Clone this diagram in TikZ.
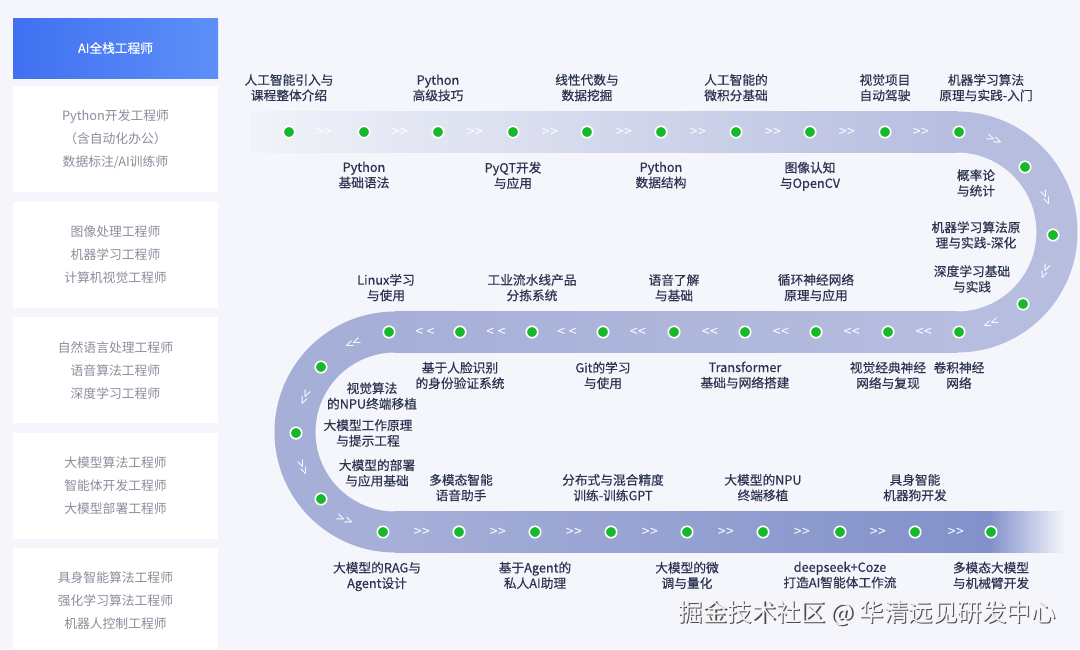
\documentclass[tikz,border=0pt]{standalone}
\usepackage{fontspec}
\setmainfont{Noto Sans CJK SC}
\newfontfamily\topicfont[FakeBold=0.45]{Noto Sans CJK SC}
\usepackage{tikz}
\usetikzlibrary{positioning}
\usepackage{xcolor}

\definecolor{pagebg}{HTML}{F5F6FB}
\definecolor{headblue}{HTML}{3F71F1}
\definecolor{headblueL}{HTML}{5E8FF8}
\definecolor{roletext}{HTML}{8A8E9B}
\definecolor{topictext}{HTML}{2C3450}
\definecolor{stopgreen}{HTML}{17B82A}
\definecolor{roadA}{HTML}{F1F3F9}
\definecolor{roadC}{HTML}{B6BDDF}
\definecolor{roadD}{HTML}{A6AFD8}
\definecolor{roadF}{HTML}{8291CA}
\definecolor{wmback}{HTML}{4A4A4A}
\definecolor{wmfront}{HTML}{F4F4F4}

\newcommand{\fwd}{>\kern0.5pt>}
\newcommand{\bwd}{<\kern0.5pt<}
\newcommand{\bwdwide}{<\kern3.5pt<}

\begin{document}
\begin{tikzpicture}[
  x=1pt, y=-1pt,
  node distance=9pt,
  headbox/.style={
    minimum width=205pt,
    minimum height=60pt,
    left color=headblue,
    right color=headblueL,
    text=white,
    font=\topicfont\fontsize{12.7}{15}\selectfont
  },
  rolebox/.style={
    fill=white,
    minimum width=205pt,
    minimum height=106pt,
    align=center,
    text=roletext,
    font=\fontsize{12.8}{23}\selectfont
  },
  stopdot/.style={
    circle,
    fill=stopgreen,
    draw=white,
    line width=1.6pt,
    inner sep=0pt,
    minimum size=11.5pt
  },
  chev/.style={
    text=white,
    inner sep=0pt,
    font=\fontsize{14}{14}\selectfont
  },
  topic/.style={
    align=center,
    text=topictext,
    inner sep=0pt,
    font=\topicfont\fontsize{12.7}{15.5}\selectfont
  },
  watermark/.style={
    font=\fontsize{24.5}{25}\selectfont
  }
]

\useasboundingbox (0,0) rectangle (1080,649);
\fill[pagebg] (0,0) rectangle (1080,649);

% Career column
\node[headbox] (head) at (115.5,48) {AI全栈工程师};
\node[rolebox, below=8pt of head] (role1)
  {Python开发工程师\\（含自动化办公）\\数据标注/AI训练师};
\node[rolebox, below=of role1] (role2)
  {图像处理工程师\\机器学习工程师\\计算机视觉工程师};
\node[rolebox, below=of role2] (role3)
  {自然语言处理工程师\\语音算法工程师\\深度学习工程师};
\node[rolebox, below=of role3] (role4)
  {大模型算法工程师\\智能体开发工程师\\大模型部署工程师};
\node[rolebox, below=of role4] (role5)
  {具身智能算法工程师\\强化学习算法工程师\\机器人控制工程师};

% Road
\shade[left color=roadA, right color=roadC] (250,111.5) rectangle (957.5,152.5);
\draw[roadC, line width=41pt] (957,132) arc[start angle=-90, end angle=90, radius=100];
\shade[left color=roadD, right color=roadC] (394.5,311.5) rectangle (957.5,352.5);
\draw[roadD, line width=41pt] (395,332) arc[start angle=-90, end angle=-270, radius=100];
\shade[left color=roadD, right color=roadF] (394.5,511.5) rectangle (990,552.5);
\shade[left color=roadF, right color=pagebg] (989.5,511.5) rectangle (1065,552.5);

% Top row stops
\node[stopdot] (t1) at (289,132) {};
\node[stopdot] (t2) at (364,132) {};
\node[stopdot] (t3) at (438,132) {};
\node[stopdot] (t4) at (513,132) {};
\node[stopdot] (t5) at (587,132) {};
\node[stopdot] (t6) at (661,132) {};
\node[stopdot] (t7) at (736,132) {};
\node[stopdot] (t8) at (810,132) {};
\node[stopdot] (t9) at (885,132) {};
\node[stopdot] (t10) at (959,132) {};

% Right bend stops
\node[stopdot] (r1) at (1025,167) {};
\node[stopdot] (r2) at (1053,235) {};
\node[stopdot] (r3) at (1023,304) {};

% Middle row stops
\node[stopdot] (m1) at (959,332) {};
\node[stopdot] (m2) at (888,332) {};
\node[stopdot] (m3) at (816,332) {};
\node[stopdot] (m4) at (745,332) {};
\node[stopdot] (m5) at (674,332) {};
\node[stopdot] (m6) at (603,332) {};
\node[stopdot] (m7) at (532,332) {};
\node[stopdot] (m8) at (460,332) {};
\node[stopdot] (m9) at (389,332) {};

% Left bend stops
\node[stopdot] (l1) at (321,367) {};
\node[stopdot] (l2) at (296,433) {};
\node[stopdot] (l3) at (321,499) {};

% Bottom row stops
\node[stopdot] (b1) at (383,532) {};
\node[stopdot] (b2) at (459,532) {};
\node[stopdot] (b3) at (535,532) {};
\node[stopdot] (b4) at (611,532) {};
\node[stopdot] (b5) at (687,532) {};
\node[stopdot] (b6) at (763,532) {};
\node[stopdot] (b7) at (840,532) {};
\node[stopdot] (b8) at (915,532) {};
\node[stopdot] (b9) at (991,532) {};

% Chevrons
\node[chev] (ct1) at (324,132) {\fwd};
\node[chev] (ct2) at (400,132) {\fwd};
\node[chev] (ct3) at (475,132) {\fwd};
\node[chev] (ct4) at (550,132) {\fwd};
\node[chev] (ct5) at (624,132) {\fwd};
\node[chev] (ct6) at (698,132) {\fwd};
\node[chev] (ct7) at (773,132) {\fwd};
\node[chev] (ct8) at (847,132) {\fwd};
\node[chev] (ct9) at (921,132) {\fwd};

\node[chev, rotate=-22.5] (cr1) at (994,141) {\fwd};
\node[chev, rotate=-67.5] (cr2) at (1045,198) {\fwd};
\node[chev, rotate=-112.5] (cr3) at (1044,271) {\fwd};
\node[chev, rotate=-157.5] (cr4) at (991,322) {\fwd};

\node[chev] (cm1) at (924,332) {\bwd};
\node[chev] (cm2) at (852,332) {\bwd};
\node[chev] (cm3) at (781,332) {\bwd};
\node[chev] (cm4) at (710,332) {\bwd};
\node[chev] (cm5) at (638,332) {\bwd};
\node[chev] (cm6) at (567,332) {\bwdwide};
\node[chev] (cm7) at (496,332) {\bwdwide};
\node[chev] (cm8) at (425,332) {\bwdwide};

\node[chev, rotate=202.5] (cl1) at (353,342) {\fwd};
\node[chev, rotate=247.5] (cl2) at (304,397) {\fwd};
\node[chev, rotate=292.5] (cl3) at (302,468) {\fwd};
\node[chev, rotate=337.5] (cl4) at (345,521) {\fwd};

\node[chev] (cb1) at (422,532) {\fwd};
\node[chev] (cb2) at (498,532) {\fwd};
\node[chev] (cb3) at (574,532) {\fwd};
\node[chev] (cb4) at (650,532) {\fwd};
\node[chev] (cb5) at (726,532) {\fwd};
\node[chev] (cb6) at (802,532) {\fwd};
\node[chev] (cb7) at (878,532) {\fwd};
\node[chev] (cb8) at (956,532) {\fwd};

% Top row topics
\node[topic, above=24pt of t1] (lt1) {人工智能引入与\\课程整体介绍};
\node[topic, above=24pt of t3] (lt3) {Python\\高级技巧};
\node[topic, above=24pt of t5] (lt5) {线性代数与\\数据挖掘};
\node[topic, above=24pt of t7] (lt7) {人工智能的\\微积分基础};
\node[topic, above=24pt of t9] (lt9) {视觉项目\\自动驾驶};
\node[topic, above=24pt of t10, xshift=27pt] (lt10) {机器学习算法\\原理与实践-入门};
\node[topic, below=23pt of t2] (lt2) {Python\\基础语法};
\node[topic, below=23pt of t4] (lt4) {PyQT开发\\与应用};
\node[topic, below=23pt of t6] (lt6) {Python\\数据结构};
\node[topic, below=23pt of t8] (lt8) {图像认知\\与OpenCV};

% Right bend topics
\node[topic] (lr1) at (976,183) {概率论\\与统计};
\node[topic] (lr2) at (976,235) {机器学习算法原\\理与实践-深化};
\node[topic] (lr3) at (972,279) {深度学习基础\\与实践};

% Middle row topics
\node[topic, above=24pt of m9, xshift=-3pt] (lm9) {Linux学习\\与使用};
\node[topic, above=24pt of m7] (lm7) {工业流水线产品\\分拣系统};
\node[topic, above=24pt of m5] (lm5) {语音了解\\与基础};
\node[topic, above=24pt of m3] (lm3) {循环神经网络\\原理与应用};
\node[topic, below=23pt of m8] (lm8) {基于人脸识别\\的身份验证系统};
\node[topic, below=23pt of m6] (lm6) {Git的学习\\与使用};
\node[topic, below=23pt of m4] (lm4) {Transformer\\基础与网络搭建};
\node[topic, below=23pt of m2] (lm2) {视觉经典神经\\网络与复现};
\node[topic, below=23pt of m1] (lm1) {卷积神经\\网络};

% Left bend topics
\node[topic] (ll1) at (372,396) {视觉算法\\的NPU终端移植};
\node[topic] (ll2) at (368,433) {大模型工作原理\\与提示工程};
\node[topic] (ll3) at (377,473) {大模型的部署\\与应用基础};

% Bottom row topics
\node[topic, above=24pt of b2, xshift=2pt] (lb2) {多模态智能\\语音助手};
\node[topic, above=24pt of b4, xshift=2pt] (lb4) {分布式与混合精度\\训练-训练GPT};
\node[topic, above=24pt of b6] (lb6) {大模型的NPU\\终端移植};
\node[topic, above=24pt of b8] (lb8) {具身智能\\机器狗开发};
\node[topic, below=23pt of b1, xshift=-6pt] (lb1) {大模型的RAG与\\Agent设计};
\node[topic, below=23pt of b3] (lb3) {基于Agent的\\私人AI助理};
\node[topic, below=23pt of b5] (lb5) {大模型的微\\调与量化};
\node[topic, below=23pt of b7] (lb7) {deepseek+Coze\\打造AI智能体工作流};
\node[topic, below=23pt of b9] (lb9) {多模态大模型\\与机械臂开发};

% Watermark
\node[watermark, text=wmback] (wmshade) at (868.3,614.3) {掘金技术社区 @ 华清远见研发中心};
\node[watermark, text=wmfront] (wm) at (867,613) {掘金技术社区 @ 华清远见研发中心};

\end{tikzpicture}
\end{document}
